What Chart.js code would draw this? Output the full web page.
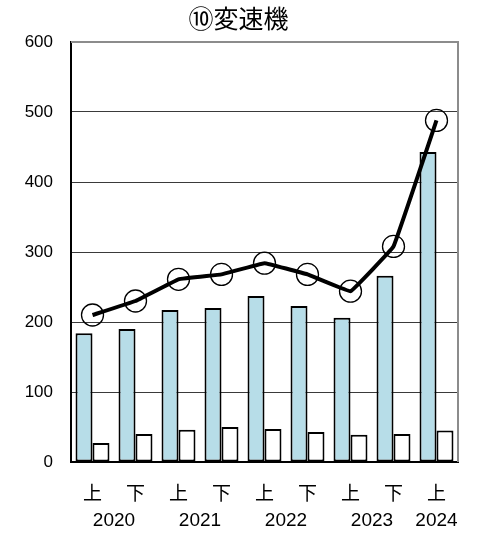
<!DOCTYPE html>
<html>
<head>
<meta charset="utf-8">
<script src="https://cdn.jsdelivr.net/npm/chart.js@4.4.1/dist/chart.umd.min.js"></script>
<style>
  html, body { margin: 0; padding: 0; background: #fff; }
  #wrap { width: 488px; height: 534px; }
</style>
</head>
<body>
<div id="wrap"><canvas id="c" width="488" height="534"></canvas></div>
<script>
// ---- data ----
const halves = ['上', '下', '上', '下', '上', '下', '上', '下', '上'];
const catYears = ['2020', '2020', '2021', '2021', '2022', '2022', '2023', '2023', '2024'];
const seriesBlue = [184, 190, 217, 220, 237, 223, 206, 266, 443];
const seriesWhite = [27, 40, 46, 50, 47, 43, 39, 40, 45];
const seriesLine = [210, 230, 261, 268, 284, 268, 244, 308, 488];
const yTicks = [0, 100, 200, 300, 400, 500, 600];
const titleText = '⑩変速機';

// year label positions derived from category grouping
const yearList = [...new Set(catYears)];
const yearPos = yearList.map(y => {
  const idx = catYears.map((v, i) => v === y ? i : null).filter(v => v !== null);
  return idx.reduce((a, b) => a + b, 0) / idx.length;
});

const framePlugin = {
  id: 'frame',
  beforeDatasetsDraw(chart) {
    const { ctx, chartArea: a } = chart;
    ctx.save();
    ctx.strokeStyle = '#8c8c8c';
    ctx.lineWidth = 2;
    ctx.beginPath();
    ctx.moveTo(a.left, a.top);
    ctx.lineTo(a.right, a.top);
    ctx.lineTo(a.right, a.bottom);
    ctx.stroke();
    ctx.restore();
  }
};

new Chart(document.getElementById('c'), {
  data: {
    labels: halves,
    datasets: [
      {
        type: 'line',
        data: seriesLine,
        borderColor: '#000',
        borderWidth: 4,
        tension: 0.05,
        pointRadius: 11,
        pointHoverRadius: 11,
        pointBorderColor: '#000',
        pointBorderWidth: 1.3,
        pointBackgroundColor: 'rgba(0,0,0,0)',
        order: 0
      },
      {
        type: 'bar',
        data: seriesBlue,
        backgroundColor: '#b7dde8',
        borderColor: '#000',
        borderWidth: 2,
        borderSkipped: false,
        barPercentage: 1.0,
        categoryPercentage: 0.79,
        order: 1
      },
      {
        type: 'bar',
        data: seriesWhite,
        backgroundColor: '#ffffff',
        borderColor: '#000',
        borderWidth: 2,
        borderSkipped: false,
        barPercentage: 1.0,
        categoryPercentage: 0.79,
        order: 1
      }
    ]
  },
  options: {
    responsive: false,
    animation: false,
    devicePixelRatio: 1,
    layout: { padding: { top: 0, right: 11, bottom: 0, left: 0 } },
    plugins: {
      legend: { display: false },
      tooltip: { enabled: false },
      title: {
        display: true,
        text: titleText,
        color: '#000',
        font: { family: '"Noto Sans CJK JP"', size: 25, weight: 'normal' },
        padding: { top: 3, bottom: 9 }
      }
    },
    scales: {
      x: {
        type: 'category',
        position: 'bottom',
        weight: 0,
        offset: true,
        grid: { display: false, drawTicks: false },
        border: { display: true, color: '#000', width: 2 },
        ticks: {
          color: '#000',
          font: { family: '"Noto Sans CJK JP"', size: 19 },
          padding: 19,
          maxRotation: 0,
          autoSkip: false
        },
        afterFit(s) { s.height = 44; }
      },
      xYear: {
        type: 'linear',
        position: 'bottom',
        weight: 1,
        min: -0.5,
        max: halves.length - 0.5,
        grid: { display: false, drawTicks: false },
        border: { display: false },
        afterBuildTicks(s) { s.ticks = yearPos.map(v => ({ value: v })); },
        ticks: {
          color: '#000',
          font: { family: '"Liberation Sans"', size: 19 },
          padding: 3,
          maxRotation: 0,
          autoSkip: false,
          callback: (v, i) => yearList[i]
        },
        afterFit(s) { s.height = 28; }
      },
      y: {
        min: 0,
        max: 600,
        afterBuildTicks(s) { s.ticks = yTicks.map(v => ({ value: v })); },
        grid: {
          drawTicks: false,
          color: (c) => (c.tick && c.tick.value === 600) ? '#8c8c8c' : '#3a3a3a',
          lineWidth: 1
        },
        border: { display: true, color: '#000', width: 2 },
        ticks: {
          color: '#000',
          font: { family: '"Liberation Sans"', size: 17 },
          padding: 18
        },
        afterFit(s) { s.width = 71; }
      },
      yRight: {
        position: 'right',
        min: 0,
        max: 600,
        grid: { display: false, drawTicks: false },
        border: { display: false },
        ticks: { display: false },
        afterFit(s) { s.width = 19; }
      }
    }
  },
  plugins: [framePlugin]
});
</script>
</body>
</html>
